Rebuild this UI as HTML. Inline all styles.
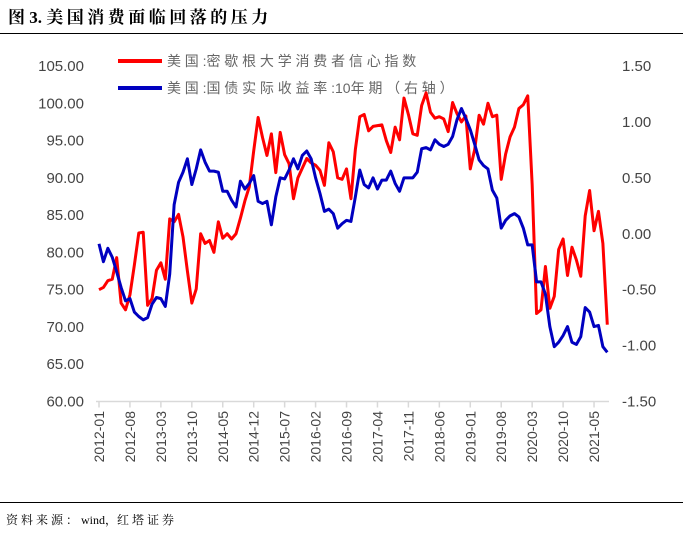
<!DOCTYPE html>
<html><head><meta charset="utf-8"><style>
body{margin:0;background:#fff;width:683px;height:532px;overflow:hidden;font-family:"Liberation Sans","Noto Sans CJK SC",sans-serif}
</style></head><body>
<svg width="683" height="532" xmlns="http://www.w3.org/2000/svg">
<text x="8" y="23" font-size="17" font-weight="bold" fill="#000" font-family="'Liberation Serif','Noto Serif CJK SC',serif">图 3. <tspan letter-spacing="3.5">美国消费面临回落的压力</tspan></text>
<line x1="0" y1="33.5" x2="683" y2="33.5" stroke="#000" stroke-width="1"/>
<line x1="0" y1="502.5" x2="683" y2="502.5" stroke="#000" stroke-width="1"/>
<text x="6" y="524" font-size="12" fill="#000" font-family="'Liberation Serif','Noto Serif CJK SC',serif"><tspan letter-spacing="3">资料来源：</tspan>wind，<tspan letter-spacing="3">红塔证券</tspan></text>
<g id="legend">
<line x1="118" y1="61" x2="162" y2="61" stroke="#ff0000" stroke-width="4"/>
<text x="167" y="66" font-size="14" fill="#666"><tspan letter-spacing="3.8">美国</tspan>:<tspan letter-spacing="3.8">密歇根大学消费者信心指数</tspan></text>
<line x1="118" y1="88" x2="162" y2="88" stroke="#0000c0" stroke-width="4"/>
<text x="167" y="93" font-size="14" fill="#666"><tspan letter-spacing="3.8">美国</tspan>:<tspan letter-spacing="3.8">国债实际收益率</tspan>:10<tspan letter-spacing="3.8">年期（右轴）</tspan></text>
</g>
<g id="axes"></g>
<g id="series"></g>
</svg>
<script>
const leftTicks=[60,65,70,75,80,85,90,95,100,105];
const rightTicks=[-1.5,-1.0,-0.5,0.0,0.5,1.0,1.5];
const xTickLabels=["2012-01","2012-08","2013-03","2013-10","2014-05","2014-12","2015-07","2016-02","2016-09","2017-04","2017-11","2018-06","2019-01","2019-08","2020-03","2020-10","2021-05"];
const sentiment=[75.0,75.3,76.2,76.4,79.3,73.2,72.3,74.3,78.3,82.6,82.7,72.9,
73.8,77.6,78.6,76.4,84.5,84.1,85.1,82.1,77.5,73.2,75.1,82.5,
81.2,81.6,80.0,84.1,81.9,82.5,81.8,82.5,84.6,86.9,88.8,93.6,
98.1,95.4,93.0,95.9,90.7,96.1,93.1,91.9,87.2,90.0,91.3,92.6,
92.0,91.7,91.0,89.0,94.7,93.5,90.0,89.8,91.2,87.2,93.8,98.2,
98.5,96.3,96.9,97.0,97.1,95.0,93.4,96.8,95.1,100.7,98.5,95.9,
95.7,99.7,101.4,98.8,98.0,98.2,97.9,96.2,100.1,98.6,97.5,98.3,
91.2,93.8,98.4,97.2,100.0,98.2,98.4,89.8,93.2,95.5,96.8,99.3,
99.8,101.0,89.1,71.8,72.3,78.1,72.5,74.1,80.4,81.8,76.9,80.7,
79.0,76.8,84.9,88.3,82.9,85.5,81.2,70.3];
const realYield=[-0.09,-0.25,-0.13,-0.21,-0.34,-0.48,-0.60,-0.58,-0.70,-0.74,-0.77,-0.75,
-0.63,-0.57,-0.58,-0.65,-0.36,0.26,0.46,0.55,0.67,0.44,0.58,0.75,
0.64,0.56,0.56,0.55,0.38,0.38,0.30,0.24,0.47,0.40,0.45,0.52,
0.29,0.27,0.29,0.08,0.33,0.50,0.49,0.57,0.67,0.58,0.70,0.74,
0.67,0.50,0.36,0.20,0.22,0.18,0.05,0.09,0.12,0.11,0.33,0.57,
0.44,0.41,0.50,0.40,0.48,0.48,0.56,0.45,0.38,0.50,0.50,0.50,
0.55,0.76,0.77,0.75,0.84,0.80,0.78,0.80,0.87,1.02,1.12,1.03,
0.93,0.80,0.66,0.61,0.58,0.39,0.32,0.05,0.12,0.16,0.18,0.15,
0.05,-0.10,-0.10,-0.43,-0.43,-0.54,-0.83,-1.01,-0.97,-0.91,-0.83,-0.97,
-0.99,-0.92,-0.66,-0.70,-0.83,-0.82,-1.01,-1.06];

const NS="http://www.w3.org/2000/svg";
const x0=99,dx=4.42,yTop=66,yBot=401.5;
const xPos=i=>x0+i*dx;
const yL=v=>yBot-(v-60)/(105-60)*(yBot-yTop);
const yR=v=>yBot-(v+1.5)/3*(yBot-yTop);
function mk(tag,attrs,parent){const e=document.createElementNS(NS,tag);for(const k in attrs)e.setAttribute(k,attrs[k]);parent.appendChild(e);return e;}
const axes=document.getElementById('axes');
const ax=mk('line',{x1:96,y1:yBot,x2:609,y2:yBot,stroke:'#d9d9d9','stroke-width':1.5},axes);


leftTicks.forEach(v=>{
 const t=mk('text',{x:84,y:yL(v)+5,'font-size':15,fill:'#444','text-anchor':'end'},axes);
 t.textContent=v.toFixed(2);
 
 
});
rightTicks.forEach(v=>{
 const t=mk('text',{x:622,y:yR(v)+5,'font-size':15,fill:'#444'},axes);
 t.textContent=v.toFixed(2);
 
 
});
xTickLabels.forEach((s,k)=>{
 const x=xPos(k*7);
 const tk=mk('line',{x1:x,y1:yBot,x2:x,y2:yBot+6,stroke:'#d9d9d9','stroke-width':1.5},axes);
 
 
 const t=mk('text',{x:0,y:0,'font-size':14,fill:'#444','text-anchor':'end',transform:`translate(${x+5},411) rotate(-90)`},axes);
 t.textContent=s;
 
 
});
const series=document.getElementById('series');
const p1=mk('polyline',{points:sentiment.map((v,i)=>xPos(i)+','+yL(v)).join(' '),fill:'none',stroke:'#ff0000','stroke-width':3,'stroke-linejoin':'round'},series);


const p2=mk('polyline',{points:realYield.map((v,i)=>xPos(i)+','+yR(v)).join(' '),fill:'none',stroke:'#0000c0','stroke-width':3,'stroke-linejoin':'round'},series);


</script>
</body></html>
